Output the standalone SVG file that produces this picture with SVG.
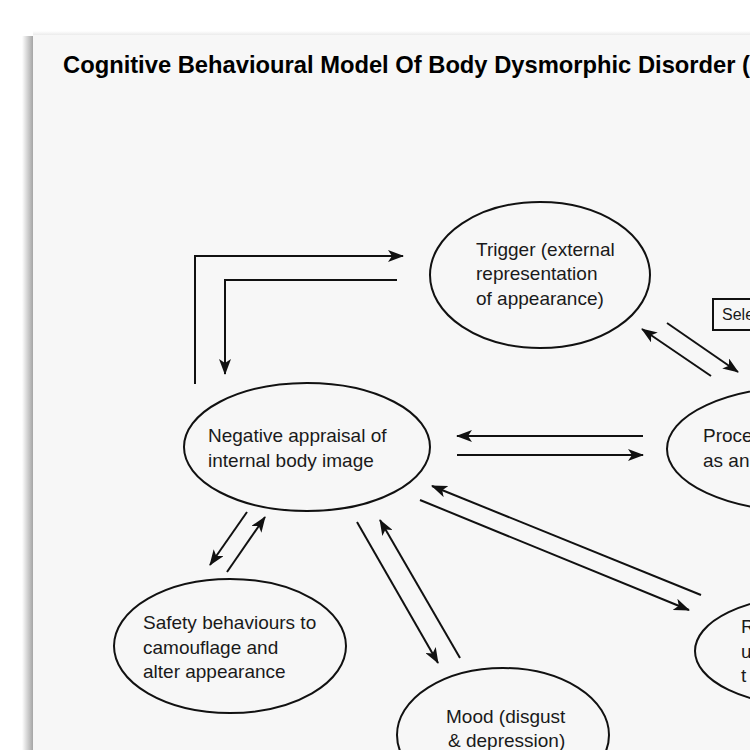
<svg xmlns="http://www.w3.org/2000/svg" width="750" height="750" viewBox="0 0 750 750">
<defs>
<style>
.n{fill:none;stroke:#111;stroke-width:2}
.t{font-family:"Liberation Sans",Arial,sans-serif;font-size:19px;fill:#1a1a1a}
.c{fill:none;stroke:#111;stroke-width:2}
</style>
<marker id="ah" viewBox="0 0 16 12" refX="15" refY="6" markerWidth="16" markerHeight="12" markerUnits="userSpaceOnUse" orient="auto">
<path d="M0,0 L16,6 L0,12 L4,6 z" fill="#111"/>
</marker>
<linearGradient id="sh" x1="0" x2="1" y1="0" y2="0">
<stop offset="0" stop-color="#fff"/>
<stop offset="1" stop-color="#a5a5a5"/>
</linearGradient>
<linearGradient id="sht" x1="0" x2="0" y1="0" y2="1">
<stop offset="0" stop-color="#fff"/>
<stop offset="1" stop-color="#e6e6e6"/>
</linearGradient>
</defs>
<rect width="750" height="750" fill="#fff"/>
<rect x="22" y="36" width="11" height="714" fill="url(#sh)"/>
<rect x="33" y="31" width="717" height="5" fill="url(#sht)"/>
<rect x="33" y="35" width="717" height="715" fill="#f7f7f7"/>
<text x="63" y="73" font-family="'Liberation Sans',Arial,sans-serif" font-weight="bold" font-size="24" fill="#000" textLength="687" lengthAdjust="spacingAndGlyphs">Cognitive Behavioural Model Of Body Dysmorphic Disorder (</text>

<g id="trigger">
<ellipse class="n" cx="540" cy="275" rx="110" ry="73"/>
<text class="t" x="476" y="256">Trigger (external</text>
<text class="t" x="476" y="280">representation</text>
<text class="t" x="476" y="305">of appearance)</text>
</g>
<g id="selective">
<rect class="n" x="713" y="299" width="60" height="31"/>
<text class="t" x="722" y="320" style="font-size:16px">Sele</text>
</g>
<g id="negative">
<ellipse class="n" cx="307" cy="447" rx="123" ry="64"/>
<text class="t" x="208" y="442">Negative appraisal of</text>
<text class="t" x="208" y="467">internal body image</text>
</g>
<g id="processing">
<ellipse class="n" cx="802" cy="449" rx="135" ry="62"/>
<text class="t" x="703" y="442">Proce</text>
<text class="t" x="703" y="467">as an</text>
</g>
<g id="safety">
<ellipse class="n" cx="230" cy="646" rx="116" ry="67"/>
<text class="t" x="143" y="629">Safety behaviours to</text>
<text class="t" x="143" y="654">camouflage and</text>
<text class="t" x="143" y="678">alter appearance</text>
</g>
<g id="mood">
<ellipse class="n" cx="503" cy="735" rx="106" ry="67"/>
<text class="t" x="446" y="723">Mood (disgust</text>
<text class="t" x="448" y="747">&amp; depression)</text>
</g>
<g id="rumination">
<ellipse class="n" cx="810" cy="651" rx="115" ry="55"/>
<text class="t" x="741" y="633">R</text>
<text class="t" x="741" y="658">u</text>
<text class="t" x="741" y="682">t</text>
</g>

<g id="connectors">
<polyline class="c" points="195,384 195,256 403,256" marker-end="url(#ah)"/>
<polyline class="c" points="397,280 225,280 225,374" marker-end="url(#ah)"/>
<line class="c" x1="667" y1="323" x2="738" y2="372" marker-end="url(#ah)"/>
<line class="c" x1="711" y1="376" x2="642" y2="329" marker-end="url(#ah)"/>
<line class="c" x1="643" y1="436" x2="457" y2="436" marker-end="url(#ah)"/>
<line class="c" x1="457" y1="455" x2="643" y2="455" marker-end="url(#ah)"/>
<line class="c" x1="247" y1="512" x2="210" y2="565" marker-end="url(#ah)"/>
<line class="c" x1="227" y1="572" x2="265" y2="517" marker-end="url(#ah)"/>
<line class="c" x1="357" y1="522" x2="438" y2="663" marker-end="url(#ah)"/>
<line class="c" x1="460" y1="658" x2="380" y2="520" marker-end="url(#ah)"/>
<line class="c" x1="420" y1="500" x2="689" y2="610" marker-end="url(#ah)"/>
<line class="c" x1="701" y1="595" x2="432" y2="486" marker-end="url(#ah)"/>
</g>
</svg>
